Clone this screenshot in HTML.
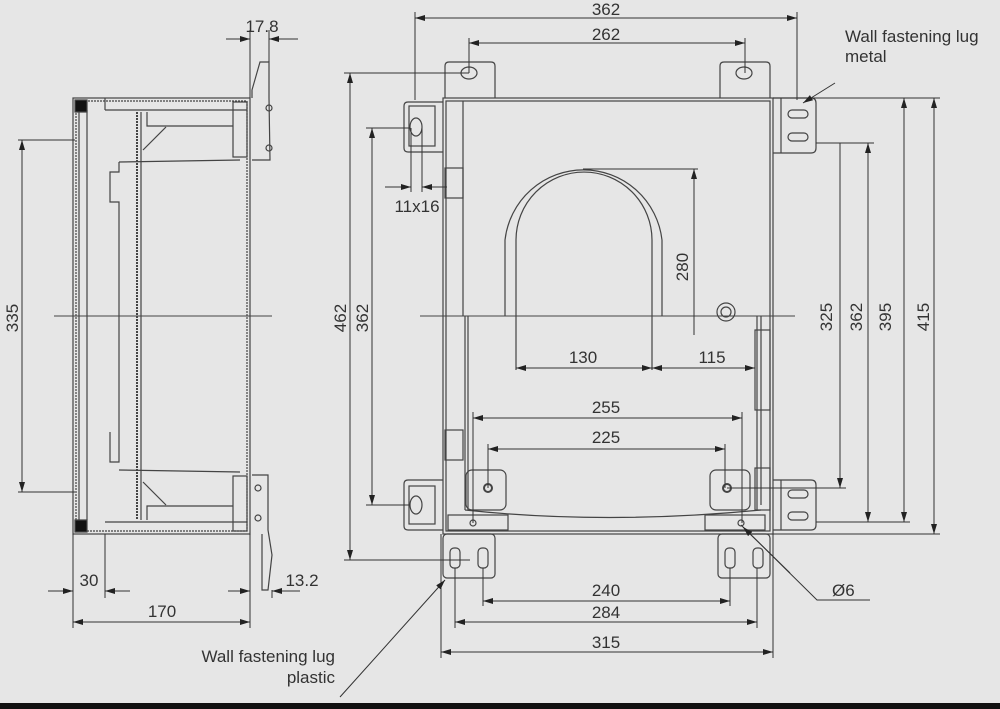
<!DOCTYPE html>
<html><head><meta charset="utf-8"><style>
html,body{margin:0;padding:0;background:#e6e6e6}
svg{display:block}
text{font-family:"Liberation Sans",sans-serif;font-size:17px;fill:#333}
</style></head><body>
<svg width="1000" height="709" viewBox="0 0 1000 709" xmlns="http://www.w3.org/2000/svg">
<defs>
<marker id="a" viewBox="0 0 10 6" refX="10" refY="3" markerWidth="10" markerHeight="6" orient="auto-start-reverse"><path d="M0,0L10,3L0,6z" fill="#222"/></marker>
</defs>
<rect width="1000" height="709" fill="#e6e6e6"/>
<rect y="703" width="1000" height="6" fill="#111"/>
<g fill="none" stroke="#444" stroke-width="1.2">
<!-- Side view -->
<rect x="73" y="98" width="177" height="436"/>
<rect x="76" y="101" width="171" height="430" stroke-dasharray="2 1"/>
<line x1="79" y1="104" x2="79" y2="528"/>
<line x1="87" y1="110" x2="87" y2="520"/>
<line x1="137" y1="112" x2="137" y2="520" stroke-width="2" stroke-dasharray="2 1"/>
<line x1="141" y1="112" x2="141" y2="520"/>
<line x1="105" y1="98" x2="105" y2="110"/>
<line x1="105" y1="110" x2="247" y2="110"/>
<line x1="105" y1="522" x2="247" y2="522"/>
<polyline points="147,112 147,126 233,126"/>
<polyline points="147,520 147,506 233,506"/>
<rect x="233" y="102" width="14" height="55"/>
<rect x="233" y="476" width="14" height="55"/>
<line x1="143" y1="150" x2="166" y2="127"/>
<line x1="143" y1="482" x2="166" y2="505"/>
<polyline points="119,162 119,172 110,172 110,202 119,202 119,462 110,462 110,432"/>
<line x1="119" y1="162" x2="240" y2="160"/>
<line x1="119" y1="470" x2="240" y2="472"/>
<polyline points="252,98 252,90 260,62 269,62 269,98 270,160 252,160"/>
<polyline points="252,475 268,475 268,530 272,555 268,590 262,590 262,534"/>
<circle cx="269" cy="108" r="3"/><circle cx="269" cy="148" r="3"/>
<circle cx="258" cy="488" r="3"/><circle cx="258" cy="518" r="3"/>
<line x1="54" y1="316" x2="272" y2="316" stroke-width="1"/>
<path d="M75,100h12v12h-12z M75,520h12v12h-12z" fill="#111"/>
<!-- Front view body -->
<rect x="443" y="98" width="330" height="436"/>
<rect x="446" y="101" width="324" height="430"/>
<line x1="463" y1="101" x2="463" y2="316"/>
<line x1="465" y1="316" x2="465" y2="510"/>
<line x1="468" y1="316" x2="468" y2="510"/>
<line x1="757" y1="316" x2="757" y2="510"/>
<line x1="761" y1="316" x2="761" y2="505"/>
<path d="M465,510 Q606,525 761,510"/>
<rect x="445" y="168" width="18" height="30"/>
<rect x="445" y="430" width="18" height="30"/>
<rect x="755" y="330" width="15" height="80"/>
<rect x="755" y="468" width="15" height="42"/>
<rect x="466" y="470" width="40" height="40" rx="6"/>
<rect x="710" y="470" width="40" height="40" rx="6"/>
<rect x="448" y="515" width="60" height="15"/>
<rect x="705" y="515" width="60" height="15"/>
<circle cx="488" cy="488" r="4" stroke-width="2"/><circle cx="727" cy="488" r="4" stroke-width="2"/>
<circle cx="473" cy="523" r="3"/><circle cx="741" cy="523" r="3"/>
<!-- arch -->
<path d="M505,316 V240 A79,79 0 0 1 662,240 V316"/>
<path d="M516,370 V240 A68,68 0 0 1 652,240 V370"/>
<circle cx="726" cy="312" r="9"/><circle cx="726" cy="312" r="5"/>
<line x1="420" y1="316" x2="795" y2="316" stroke-width="1"/>
<!-- top lugs -->
<path d="M445,98 V66 q0,-4 4,-4 h42 q4,0 4,4 V98"/>
<ellipse cx="469" cy="73" rx="8" ry="6"/>
<path d="M720,98 V66 q0,-4 4,-4 h42 q4,0 4,4 V98"/>
<ellipse cx="744" cy="73" rx="8" ry="6"/>
<!-- left side lugs -->
<path d="M443,102 h-35 q-4,0 -4,4 v42 q0,4 4,4 h35"/>
<rect x="409" y="106" width="26" height="40"/>
<ellipse cx="416" cy="127" rx="6" ry="9"/>
<path d="M443,480 h-35 q-4,0 -4,4 v42 q0,4 4,4 h35"/>
<rect x="409" y="486" width="26" height="38"/>
<ellipse cx="416" cy="505" rx="6" ry="9"/>
<!-- right metal lugs -->
<path d="M773,98 h38 q5,0 5,5 v45 q0,5 -5,5 h-38"/>
<path d="M773,480 h38 q5,0 5,5 v40 q0,5 -5,5 h-38"/>
<line x1="781" y1="98" x2="781" y2="153"/><line x1="781" y1="480" x2="781" y2="530"/>
<rect x="788" y="110" width="20" height="8" rx="4"/><rect x="788" y="133" width="20" height="8" rx="4"/>
<rect x="788" y="490" width="20" height="8" rx="4"/><rect x="788" y="512" width="20" height="8" rx="4"/>
<!-- bottom plastic lugs -->
<rect x="443" y="534" width="52" height="44" rx="4"/>
<rect x="718" y="534" width="52" height="44" rx="4"/>
<rect x="450" y="548" width="10" height="20" rx="4"/><rect x="478" y="548" width="10" height="20" rx="4"/>
<rect x="725" y="548" width="10" height="20" rx="4"/><rect x="753" y="548" width="10" height="20" rx="4"/>
</g>
<!-- dimensions -->
<g stroke="#333" stroke-width="1" fill="none">
<line x1="250" y1="30" x2="250" y2="98"/><line x1="269" y1="30" x2="269" y2="62"/>
<line x1="226" y1="39" x2="250" y2="39" marker-end="url(#a)"/><line x1="298" y1="39" x2="269" y2="39" marker-end="url(#a)"/>
<line x1="18" y1="140" x2="75" y2="140"/><line x1="18" y1="492" x2="75" y2="492"/>
<line x1="22" y1="140" x2="22" y2="492" marker-start="url(#a)" marker-end="url(#a)"/>
<line x1="73" y1="534" x2="73" y2="628"/><line x1="105" y1="534" x2="105" y2="598"/><line x1="250" y1="534" x2="250" y2="628"/><line x1="272" y1="590" x2="272" y2="598"/>
<line x1="48" y1="591" x2="73" y2="591" marker-end="url(#a)"/><line x1="130" y1="591" x2="105" y2="591" marker-end="url(#a)"/>
<line x1="73" y1="622" x2="250" y2="622" marker-start="url(#a)" marker-end="url(#a)"/>
<line x1="228" y1="591" x2="250" y2="591" marker-end="url(#a)"/><line x1="300" y1="591" x2="272" y2="591" marker-end="url(#a)"/>
<line x1="415" y1="12" x2="415" y2="100"/><line x1="797" y1="12" x2="797" y2="100"/>
<line x1="415" y1="18" x2="797" y2="18" marker-start="url(#a)" marker-end="url(#a)"/>
<line x1="469" y1="38" x2="469" y2="73"/><line x1="745" y1="38" x2="745" y2="73"/>
<line x1="469" y1="43" x2="745" y2="43" marker-start="url(#a)" marker-end="url(#a)"/>
<line x1="344" y1="73" x2="469" y2="73"/><line x1="344" y1="560" x2="470" y2="560"/>
<line x1="350" y1="73" x2="350" y2="560" marker-start="url(#a)" marker-end="url(#a)"/>
<line x1="366" y1="128" x2="410" y2="128"/><line x1="366" y1="505" x2="410" y2="505"/>
<line x1="372" y1="128" x2="372" y2="505" marker-start="url(#a)" marker-end="url(#a)"/>
<line x1="411" y1="128" x2="411" y2="192"/><line x1="422" y1="128" x2="422" y2="192"/>
<line x1="385" y1="187" x2="411" y2="187" marker-end="url(#a)"/><line x1="447" y1="187" x2="422" y2="187" marker-end="url(#a)"/>
<line x1="583" y1="169" x2="698" y2="169"/>
<line x1="694" y1="335" x2="694" y2="169" marker-end="url(#a)"/>
<line x1="516" y1="368" x2="652" y2="368" marker-start="url(#a)" marker-end="url(#a)"/>
<line x1="652" y1="368" x2="755" y2="368" marker-start="url(#a)" marker-end="url(#a)"/>
<line x1="473" y1="412" x2="473" y2="523"/><line x1="742" y1="412" x2="742" y2="523"/>
<line x1="473" y1="418" x2="742" y2="418" marker-start="url(#a)" marker-end="url(#a)"/>
<line x1="488" y1="444" x2="488" y2="488"/><line x1="725" y1="444" x2="725" y2="488"/>
<line x1="488" y1="449" x2="725" y2="449" marker-start="url(#a)" marker-end="url(#a)"/>
<line x1="816" y1="143" x2="874" y2="143"/><line x1="727" y1="488" x2="846" y2="488"/>
<line x1="840" y1="143" x2="840" y2="488" marker-end="url(#a)"/>
<line x1="868" y1="143" x2="868" y2="522" marker-start="url(#a)" marker-end="url(#a)"/>
<line x1="773" y1="98" x2="940" y2="98"/><line x1="816" y1="522" x2="910" y2="522"/><line x1="773" y1="534" x2="940" y2="534"/>
<line x1="904" y1="98" x2="904" y2="522" marker-start="url(#a)" marker-end="url(#a)"/>
<line x1="934" y1="98" x2="934" y2="534" marker-start="url(#a)" marker-end="url(#a)"/>
<line x1="483" y1="568" x2="483" y2="606"/><line x1="730" y1="568" x2="730" y2="606"/>
<line x1="483" y1="601" x2="730" y2="601" marker-start="url(#a)" marker-end="url(#a)"/>
<line x1="455" y1="568" x2="455" y2="628"/><line x1="757" y1="568" x2="757" y2="628"/>
<line x1="455" y1="622" x2="757" y2="622" marker-start="url(#a)" marker-end="url(#a)"/>
<line x1="441" y1="534" x2="441" y2="658"/><line x1="773" y1="534" x2="773" y2="658"/>
<line x1="441" y1="652" x2="773" y2="652" marker-start="url(#a)" marker-end="url(#a)"/>
<polyline points="870,600 817,600 741,525" /><line x1="790" y1="573" x2="743" y2="527" marker-end="url(#a)"/>
<line x1="835" y1="83" x2="803" y2="103" marker-end="url(#a)"/>
<line x1="340" y1="697" x2="445" y2="580" marker-end="url(#a)"/>
</g>
<g>
<text x="262" y="32" text-anchor="middle">17.8</text>
<text transform="translate(18,318) rotate(-90)" text-anchor="middle">335</text>
<text x="89" y="586" text-anchor="middle">30</text>
<text x="162" y="617" text-anchor="middle">170</text>
<text x="302" y="586" text-anchor="middle">13.2</text>
<text x="606" y="15" text-anchor="middle">362</text>
<text x="606" y="40" text-anchor="middle">262</text>
<text transform="translate(346,318) rotate(-90)" text-anchor="middle">462</text>
<text transform="translate(368,318) rotate(-90)" text-anchor="middle">362</text>
<text x="417" y="212" text-anchor="middle">11x16</text>
<text transform="translate(688,267) rotate(-90)" text-anchor="middle">280</text>
<text x="583" y="363" text-anchor="middle">130</text>
<text x="712" y="363" text-anchor="middle">115</text>
<text x="606" y="413" text-anchor="middle">255</text>
<text x="606" y="443" text-anchor="middle">225</text>
<text transform="translate(832,317) rotate(-90)" text-anchor="middle">325</text>
<text transform="translate(862,317) rotate(-90)" text-anchor="middle">362</text>
<text transform="translate(891,317) rotate(-90)" text-anchor="middle">395</text>
<text transform="translate(929,317) rotate(-90)" text-anchor="middle">415</text>
<text x="606" y="596" text-anchor="middle">240</text>
<text x="606" y="618" text-anchor="middle">284</text>
<text x="606" y="648" text-anchor="middle">315</text>
<text x="832" y="596">Ø6</text>
<text x="845" y="42" font-size="16">Wall fastening lug</text>
<text x="845" y="62" font-size="16">metal</text>
<text x="335" y="662" font-size="16" text-anchor="end">Wall fastening lug</text>
<text x="335" y="683" font-size="16" text-anchor="end">plastic</text>
</g>
</svg>
</body></html>
